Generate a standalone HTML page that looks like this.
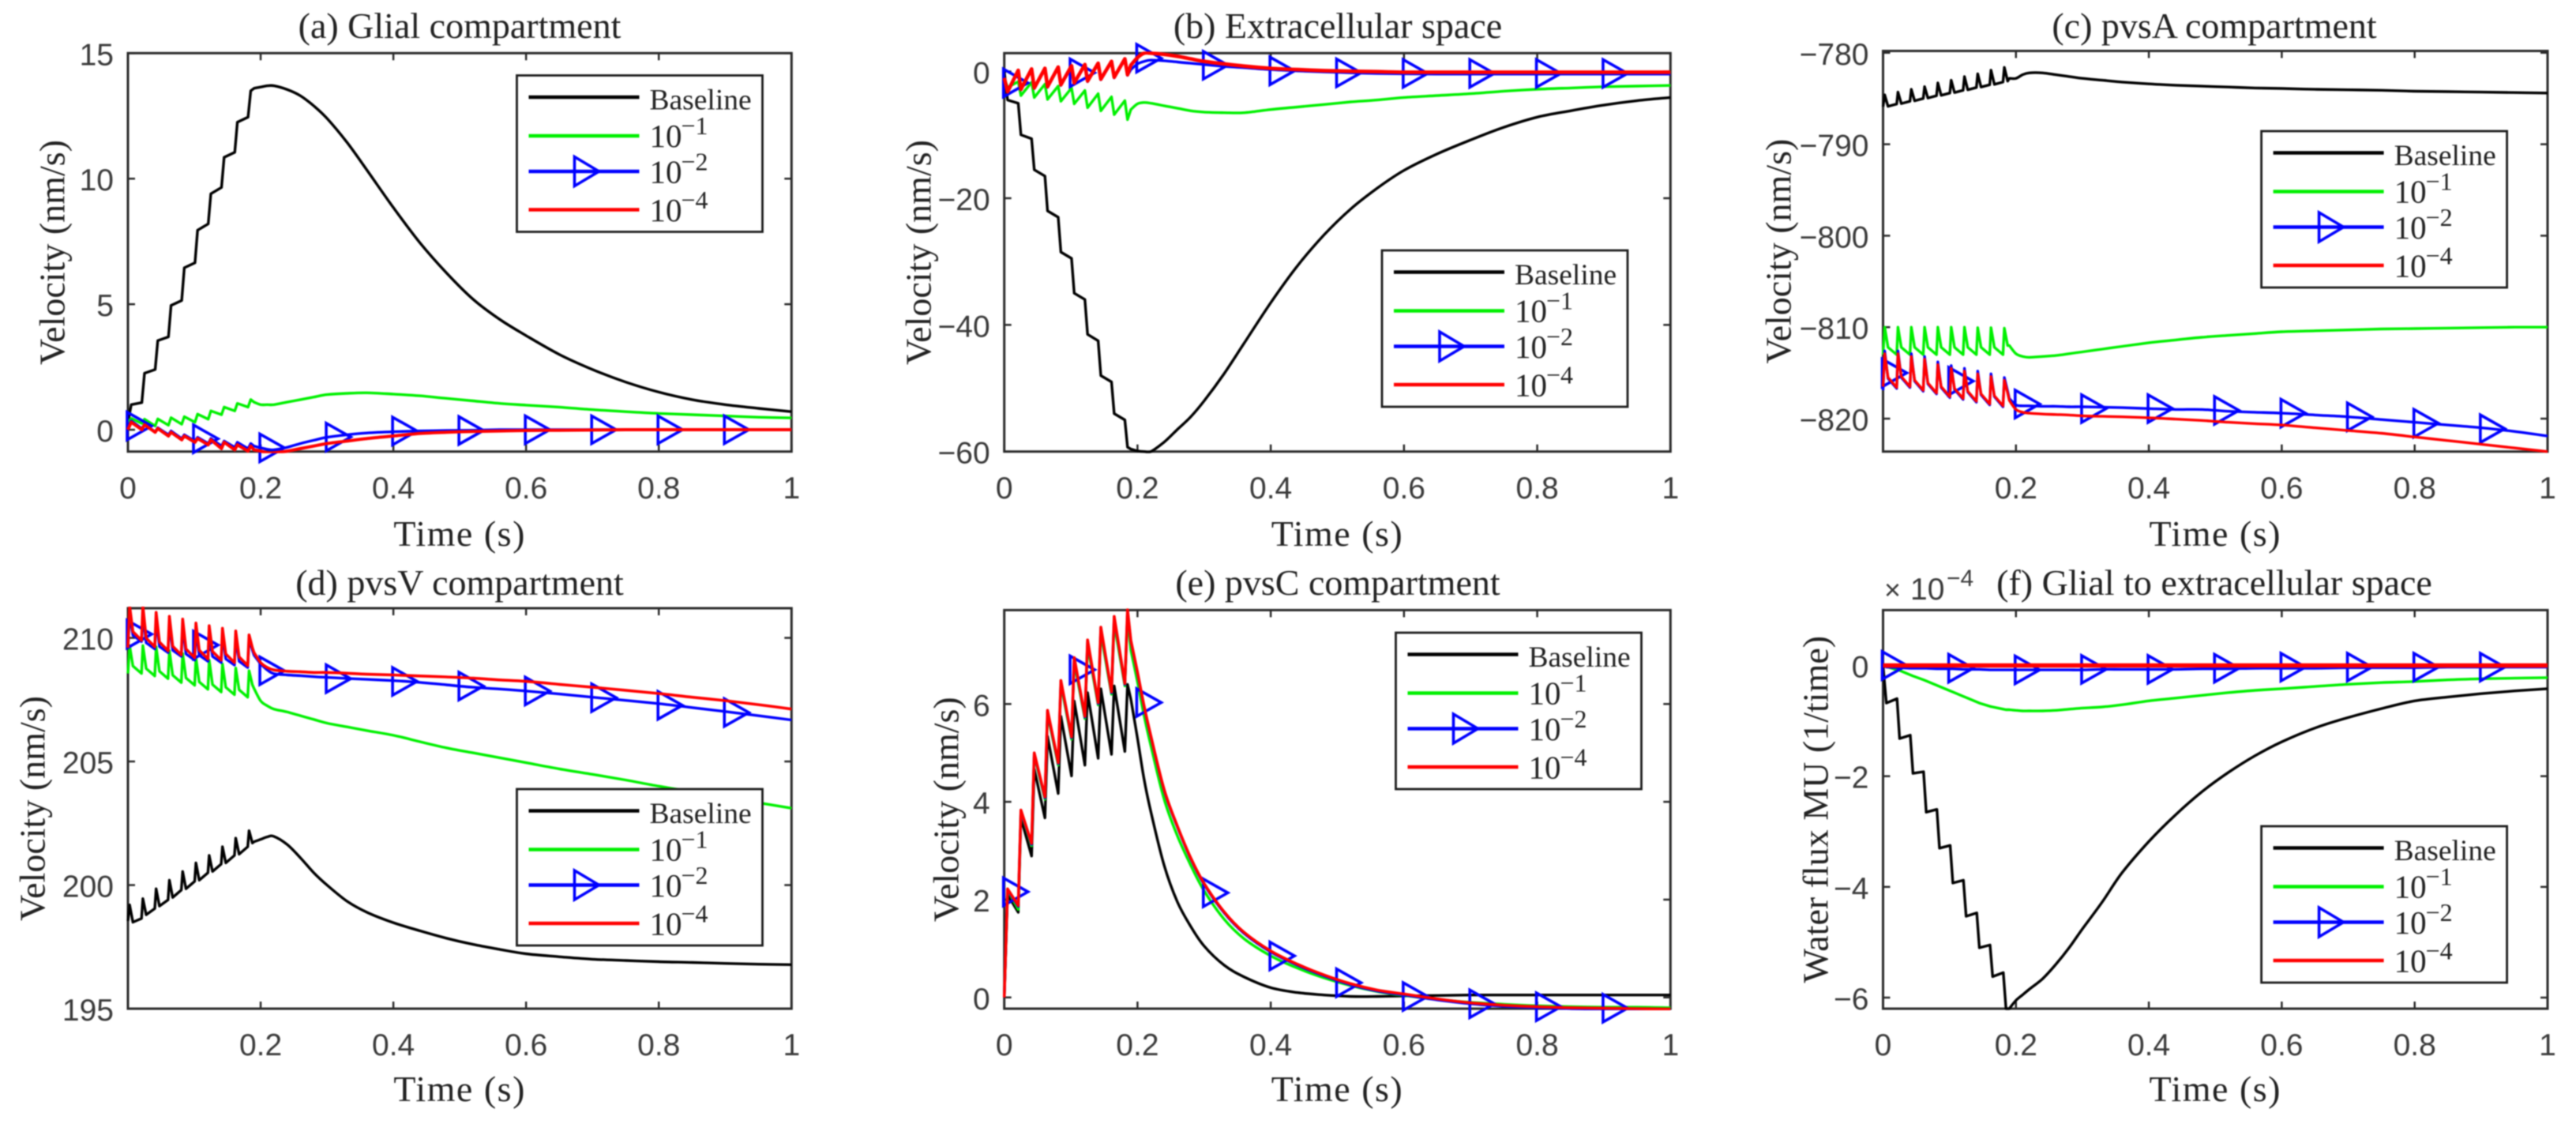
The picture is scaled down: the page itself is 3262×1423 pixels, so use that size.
<!DOCTYPE html>
<html lang="en">
<head>
<meta charset="utf-8">
<title>Velocity and water flux by compartment</title>
<style>
html,body{margin:0;padding:0;background:#fff;width:3262px;height:1423px;overflow:hidden}
#figure{display:block;filter:blur(0.7px)}
.serif{font-family:"Liberation Serif",serif;fill:#222}
.sans{font-family:"Liberation Sans",sans-serif;fill:#3a3a3a}
</style>
</head>
<body>
<svg id="figure" xmlns="http://www.w3.org/2000/svg" width="3262" height="1423" viewBox="0 0 3262 1423"></svg>
<script>
// ---------- shared sample times ----------
const timesSlowRise = [0,.005,.021,.025,.041,.045,.061,.065,.081,.085,.101,.105,.121,.125,.141,.145,.161,.165,.181,.185,.19,.2,.21,.22,.24,.26,.28,.3,.33,.36,.4,.44,.48,.52,.56,.6,.65,.7,.75,.8,.85,.9,.95,1];
const timesFastRise = [0,.0025,.0075,.0205,.0225,.0275,.0405,.0425,.0475,.0605,.0625,.0675,.0805,.0825,.0875,.1005,.1025,.1075,.1205,.1225,.1275,.1405,.1425,.1475,.1605,.1625,.1675,.1805,.1825,.1875,.19,.2,.21,.22,.24,.26,.28,.3,.33,.36,.4,.44,.48,.52,.56,.6,.65,.7,.75,.8,.85,.9,.95,1];
const markerTimes = [0,.1,.2,.3,.4,.5,.6,.7,.8,.9];
const xTickValues = [0,.2,.4,.6,.8,1];
const xTickLabels = ["0","0.2","0.4","0.6","0.8","1"];
const xTickLabelsNoZero = ["","0.2","0.4","0.6","0.8","1"];
const legendLabels = ["Baseline","10","10","10"];
const legendExponents = ["","\u22121","\u22122","\u22124"];

// ---------- (a) glial ----------
const glialYTicks = [0,5,10,15];
const glialYLabels = ["0","5","10","15"];
const glialBaseline = [.3,1,1.08,2.25,2.4,3.55,3.7,4.95,5.15,6.45,6.65,7.95,8.2,9.4,9.65,10.85,11.05,12.25,12.45,13.5,13.6,13.65,13.7,13.7,13.55,13.3,12.9,12.4,11.45,10.35,8.85,7.45,6.25,5.2,4.4,3.75,3,2.4,1.9,1.5,1.2,1,.85,.72];
const glialGreen = [.3,.45,.25,.42,.15,.43,.18,.48,.22,.52,.3,.62,.42,.75,.6,.9,.75,1.05,.9,1.2,1.1,1,1,1,1.1,1.2,1.3,1.4,1.45,1.47,1.42,1.35,1.25,1.15,1.05,.98,.9,.8,.72,.65,.6,.55,.5,.47];
const glialBlue = [.1,.35,.05,.22,-.08,.08,-.2,-.05,-.35,-.2,-.45,-.3,-.55,-.35,-.65,-.45,-.7,-.5,-.75,-.55,-.65,-.72,-.78,-.8,-.7,-.55,-.42,-.3,-.2,-.13,-.08,-.05,-.03,-.02,0,0,0,0,0,0,0,0,0,0];
const glialRed = [0,.3,0,.2,-.1,.05,-.25,-.1,-.4,-.25,-.5,-.35,-.6,-.4,-.75,-.5,-.8,-.6,-.85,-.65,-.8,-.85,-.92,-.92,-.85,-.75,-.65,-.55,-.45,-.35,-.25,-.15,-.1,-.07,-.05,-.03,-.02,-.01,0,0,0,0,0,0];
const glialMarkers = [.15,-.36,-.72,-.29,-.05,-.03,0,0,0,0];

// ---------- (b) extracellular ----------
const extraYTicks = [0,-20,-40,-60];
const extraYLabels = ["0","\u221220","\u221240","\u221260"];
const extraBaseline = [0,-4.5,-5,-10,-10.6,-15.5,-16.5,-22,-23,-28.5,-29.5,-35,-36,-41.5,-42.5,-48,-49,-54,-55,-59.3,-59.6,-59.9,-60,-60,-58.5,-56.5,-54.5,-52,-47.7,-42.9,-36.5,-30.7,-25.8,-21.7,-18.4,-15.6,-13,-10.8,-8.8,-7.2,-6.2,-5.3,-4.6,-4.1];
const extraGreen = [-1,-2.5,-1.6,-3.8,-1.7,-4.1,-2,-4.4,-2.3,-4.7,-2.6,-5.1,-3,-5.7,-3.5,-6.2,-4,-6.8,-4.6,-7.6,-6,-5.1,-4.9,-5,-5.4,-5.8,-6.2,-6.4,-6.5,-6.5,-6,-5.6,-5.2,-4.8,-4.5,-4.1,-3.8,-3.5,-3.1,-2.8,-2.6,-2.4,-2.3,-2.2];
const extraBlue = [-1,-3.3,.1,-2.9,.3,-2.7,.4,-2.5,.6,-2.2,.8,-1.9,1,-1.6,1.2,-1.3,1.5,-1,1.9,-.6,.3,1.2,1.6,1.8,1.7,1.5,1.3,1.1,.8,.6,.3,.1,-.05,-.2,-.3,-.35,-.4,-.4,-.4,-.4,-.4,-.4,-.4,-.4];
const extraRed = [-1,-3.2,.2,-2.8,.4,-2.6,.5,-2.4,.7,-2.1,.9,-1.8,1.1,-1.5,1.3,-1.2,1.6,-.9,2,-.5,1,2.2,2.9,2.9,2.7,2.4,2,1.6,1.2,.85,.5,.3,.15,.05,-.02,-.1,-.1,-.1,-.1,-.1,-.1,-.1,-.1,-.1];
const extraMarkers = [-1.8,-.2,2.1,1,.1,-.2,-.3,-.3,-.3,-.3];

// ---------- (c) pvsA ----------
const pvsAYTicks = [-780,-790,-800,-810,-820];
const pvsAYLabels = ["\u2212780","\u2212790","\u2212800","\u2212810","\u2212820"];
const pvsABaseline = [-785.9,-784.6,-785.85,-785.6,-784.3,-785.55,-785.3,-784,-785.25,-785,-783.7,-784.95,-784.7,-783.3,-784.65,-784.4,-783,-784.35,-784.1,-782.6,-784.05,-783.8,-782.3,-783.75,-783.5,-781.9,-783.45,-783.2,-781.6,-783.1,-782.8,-782.8,-782.4,-782.2,-782.2,-782.4,-782.6,-782.8,-783,-783.2,-783.4,-783.55,-783.65,-783.75,-783.85,-783.9,-784,-784.05,-784.1,-784.2,-784.25,-784.3,-784.35,-784.4];
const pvsAGreen = [-813,-810,-812.2,-813,-810,-812.2,-813,-810,-812.2,-813,-810,-812.2,-813,-810,-812.2,-813,-810,-812.2,-813,-810,-812.2,-813,-810.05,-812.2,-813,-810.05,-812.2,-813,-810.1,-812,-812,-812.9,-813.2,-813.3,-813.2,-813.1,-812.9,-812.7,-812.4,-812.1,-811.7,-811.4,-811.1,-810.9,-810.7,-810.5,-810.4,-810.3,-810.2,-810.15,-810.1,-810.05,-810,-810];
const pvsABlue = [-816.9,-812.6,-815.6,-816.7,-812.6,-815.5,-816.6,-812.9,-815.9,-817,-813.2,-816.2,-817.3,-813.8,-816.6,-817.7,-814.2,-816.8,-817.9,-814.5,-817.1,-818.2,-814.8,-817.4,-818.5,-815.1,-817.6,-818.7,-815.5,-817,-817.8,-818.5,-818.6,-818.6,-818.65,-818.65,-818.7,-818.7,-818.75,-818.8,-818.9,-819,-819,-819.2,-819.3,-819.4,-819.6,-819.8,-820.1,-820.4,-820.7,-821,-821.4,-821.9];
const pvsARed = [-816.5,-812.9,-815.5,-816.6,-812.9,-815.4,-816.5,-813.2,-815.8,-816.9,-813.5,-816.1,-817.2,-814.1,-816.5,-817.6,-814.5,-816.7,-817.8,-814.8,-817,-818.1,-815.1,-817.3,-818.4,-815.4,-817.5,-818.6,-815.8,-817.2,-818,-819,-819.3,-819.4,-819.5,-819.55,-819.6,-819.7,-819.75,-819.8,-819.9,-820.05,-820.2,-820.4,-820.55,-820.7,-821,-821.3,-821.6,-822,-822.4,-822.8,-823.2,-823.6];
const pvsAMarkers = [-815,-815.9,-818.4,-818.9,-818.9,-819.1,-819.4,-819.8,-820.5,-821.1];

// ---------- (d) pvsV ----------
const pvsVYTicks = [195,200,205,210];
const pvsVYLabels = ["195","200","205","210"];
const pvsVBaseline = [198.55,199.2,198.5,198.65,199.45,198.8,199.05,199.85,199.15,199.4,200.2,199.5,199.8,200.55,199.85,200.15,200.9,200.2,200.5,201.2,200.55,200.85,201.55,200.9,201.2,201.9,201.25,201.55,202.2,201.7,201.75,201.85,201.95,201.97,201.64,201.1,200.5,200,199.35,198.9,198.48,198.15,197.85,197.6,197.4,197.22,197.1,197,196.95,196.9,196.87,196.83,196.8,196.78];
const pvsVGreen = [208.56,209.69,208.86,208.56,209.69,208.76,208.46,209.64,208.65,208.35,209.48,208.49,208.19,209.37,208.38,208.08,209.2,208.22,207.92,209.1,208.11,207.81,208.94,208,207.7,208.78,207.9,207.6,208.67,208.1,207.95,207.45,207.25,207.12,207,206.85,206.7,206.55,206.4,206.25,206.06,205.8,205.55,205.35,205.15,204.95,204.7,204.48,204.25,204,203.78,203.55,203.33,203.11];
const pvsVBlue = [209.55,210.95,210.1,209.85,210.9,209.8,209.55,210.75,209.65,209.4,210.6,209.5,209.25,210.5,209.35,209.1,210.35,209.3,209.05,210.25,209.25,209,210.15,209.15,208.9,210.05,209.05,208.8,209.95,209.5,209.3,208.95,208.7,208.55,208.5,208.47,208.43,208.4,208.36,208.32,208.27,208.2,208.1,208,207.93,207.85,207.73,207.6,207.47,207.34,207.18,207.02,206.85,206.68];
const pvsVRed = [209.6,211.3,210.25,209.9,211.3,209.99,209.64,211.03,209.83,209.48,210.87,209.66,209.31,210.76,209.55,209.2,210.6,209.5,209.15,210.49,209.45,209.1,210.39,209.35,209,210.28,209.23,208.88,210.12,209.6,209.4,209,208.8,208.7,208.65,208.63,208.6,208.6,208.57,208.53,208.5,208.46,208.42,208.37,208.3,208.24,208.12,208,207.88,207.75,207.6,207.46,207.3,207.12];
const pvsVMarkers = [210.15,209.71,208.67,208.35,208.24,208.05,207.85,207.58,207.27,206.98];

// ---------- (e) pvsC ----------
const pvsCYTicks = [0,2,4,6];
const pvsCYLabels = ["0","2","4","6"];
const pvsCBaseline = [0,2.1,1.74,3.67,2.89,4.67,3.67,5.34,4.17,5.75,4.53,6.06,4.75,6.23,4.89,6.31,4.97,6.37,5.03,6.4,6.1,5.3,4.45,3.8,2.7,1.95,1.45,1.05,.66,.42,.2,.1,.05,.02,.02,.03,.04,.05,.05,.05,.05,.05,.05,.05];
const pvsCGreen = [0,2.2,1.8,3.8,3.1,4.95,4.05,5.8,4.75,6.4,5.28,6.85,5.7,7.2,5.98,7.45,6.2,7.65,6.37,7.8,7.1,6.45,5.75,5.15,4.05,3.3,2.7,2.18,1.6,1.2,.85,.6,.4,.24,.12,.04,-.04,-.1,-.14,-.17,-.19,-.2,-.2,-.21];
const pvsCBlue = [0,2.2,1.86,3.81,3.13,4.98,4.08,5.85,4.78,6.46,5.31,6.93,5.73,7.29,6.01,7.55,6.23,7.77,6.4,7.9,7.28,6.63,5.93,5.33,4.23,3.48,2.83,2.31,1.73,1.31,.93,.66,.44,.26,.13,.05,-.05,-.13,-.18,-.21,-.23,-.24,-.25,-.26];
const pvsCRed = [0,2.22,1.88,3.83,3.15,5,4.1,5.87,4.8,6.48,5.33,6.95,5.75,7.31,6.03,7.57,6.25,7.79,6.42,7.93,7.3,6.65,5.95,5.35,4.25,3.5,2.85,2.33,1.75,1.33,.95,.68,.46,.28,.15,.07,-.03,-.11,-.16,-.19,-.21,-.22,-.23,-.24];
const pvsCMarkers = [2.16,6.7,6.03,2.14,.85,.3,.02,-.13,-.19,-.22];

// ---------- (f) glial to extracellular flux ----------
const fluxYTicks = [0,-2,-4,-6];
const fluxYLabels = ["0","\u22122","\u22124","\u22126"];
const fluxBaseline = [0,-.68,-.6,-1.32,-1.26,-1.95,-1.92,-2.65,-2.6,-3.3,-3.25,-3.93,-3.88,-4.53,-4.47,-5.1,-5.05,-5.62,-5.55,-6.2,-6.2,-6.05,-5.95,-5.85,-5.66,-5.4,-5.1,-4.76,-4.27,-3.74,-3.18,-2.7,-2.28,-1.93,-1.63,-1.38,-1.13,-.94,-.78,-.64,-.57,-.51,-.46,-.42];
const fluxGreen = [0,-.02,-.08,-.09,-.17,-.19,-.26,-.28,-.36,-.38,-.46,-.48,-.56,-.58,-.66,-.68,-.74,-.75,-.79,-.8,-.8,-.81,-.82,-.82,-.82,-.81,-.79,-.77,-.75,-.71,-.64,-.59,-.54,-.49,-.45,-.42,-.38,-.34,-.31,-.29,-.26,-.24,-.23,-.22];
const fluxBlue = [0,-.03,-.04,-.04,-.05,-.05,-.05,-.05,-.06,-.06,-.06,-.06,-.07,-.07,-.07,-.07,-.08,-.08,-.08,-.08,-.08,-.08,-.08,-.08,-.08,-.08,-.08,-.08,-.07,-.07,-.07,-.07,-.06,-.06,-.05,-.05,-.05,-.04,-.04,-.04,-.03,-.03,-.03,-.03];
const fluxRed = [0,0,0,0,0,0,0,0,0,0,0,0,0,0,0,0,0,0,0,0,0,0,0,0,0,0,0,0,0,0,0,0,0,0,0,0,0,0,0,0,0,0,0,0];
const fluxMarkers = [0,-.05,-.08,-.07,-.07,-.05,-.03,-.03,-.03,-.03];

// ---------- drawing ----------
const SVG_NS = "http://www.w3.org/2000/svg";
const root = document.getElementById("figure");
const AXIS = "#2a2a2a";
const TAIL_START_TIME = 0.19;

function make(parent, tag, attrs, text) {
  const node = document.createElementNS(SVG_NS, tag);
  for (const k in attrs) node.setAttribute(k, attrs[k]);
  if (text !== undefined) node.textContent = text;
  parent.appendChild(node);
  return node;
}
function axisX(p, t) { return p.left + (t - 0) * (p.right - p.left); }
function axisY(p, v) { return p.bottom - (v - p.yMin) / (p.yMax - p.yMin) * (p.bottom - p.top); }

// Straight segments through the pulse train, smooth spline through the decay tail.
function seriesPath(p, times, values) {
  const xs = values.map((v, i) => axisX(p, times[i]));
  const ys = values.map(v => axisY(p, v));
  const tail = times.findIndex(t => t >= TAIL_START_TIME);
  let d = "M" + xs[0].toFixed(1) + " " + ys[0].toFixed(1);
  for (let i = 1; i <= tail; i++) d += "L" + xs[i].toFixed(1) + " " + ys[i].toFixed(1);
  for (let i = tail; i < xs.length - 1; i++) {
    const a = Math.max(i - 1, tail), b = Math.min(i + 2, xs.length - 1);
    const c1x = xs[i] + (xs[i + 1] - xs[a]) / 6, c1y = ys[i] + (ys[i + 1] - ys[a]) / 6;
    const c2x = xs[i + 1] - (xs[b] - xs[i]) / 6, c2y = ys[i + 1] - (ys[b] - ys[i]) / 6;
    d += "C" + c1x.toFixed(1) + " " + c1y.toFixed(1) + " " + c2x.toFixed(1) + " " + c2y.toFixed(1) + " " + xs[i + 1].toFixed(1) + " " + ys[i + 1].toFixed(1);
  }
  return d;
}
function drawSeries(g, p, times, values, color, width, name) {
  const line = make(g, "path", {d: seriesPath(p, times, values), fill: "none", stroke: color, "stroke-width": width, "stroke-linejoin": "round", "clip-path": "url(#clip-" + p.key + ")"});
  
  
}
function triangle(cx, cy, hw, hh) {
  return (cx - 1) + "," + (cy - hh) + " " + (cx - 1 + hw) + "," + cy + " " + (cx - 1) + "," + (cy + hh);
}
function drawMarkers(g, p, values) {
  values.forEach((v, i) => {
    const m = make(g, "polygon", {points: triangle(axisX(p, markerTimes[i]), axisY(p, v), 31, 17.5), fill: "none", stroke: "#0000ff", "stroke-width": 3.6, "stroke-linejoin": "miter"});
    
    
  });
}
function drawLegend(g, lx, ly) {
  const box = make(g, "rect", {x: lx, y: ly, width: 311, height: 198, fill: "#fff", stroke: "#1c1c1c", "stroke-width": 2.8});
  
  
  const colors = ["#000000", "#00f000", "#0000ff", "#ff0000"];
  const rowLine = [27.5, 76.5, 121.5, 170];
  const rowBase = [43, 90.5, 136, 184.5];
  legendLabels.forEach((label, i) => {
    const entry = make(g, "g", {});
    
    
    make(entry, "line", {x1: lx + 15, x2: lx + 155, y1: ly + rowLine[i], y2: ly + rowLine[i], stroke: colors[i], "stroke-width": 4.6});
    if (i === 2) {
      make(entry, "polygon", {points: triangle(lx + 74, ly + rowLine[i], 31, 18.5), fill: "none", stroke: "#0000ff", "stroke-width": 3.6});
    }
    make(entry, "text", {x: lx + 168, y: ly + rowBase[i], class: "serif", "font-size": i === 0 ? 37.5 : 41}, label);
    if (legendExponents[i]) {
      make(entry, "text", {x: lx + 208, y: ly + rowBase[i] - 16, class: "serif", "font-size": 32}, legendExponents[i]);
    }
  });
}
function drawPanel(p) {
  const g = make(root, "g", {});
  
  
  const clip = make(make(g, "defs", {}), "clipPath", {id: "clip-" + p.key});
  make(clip, "rect", {x: p.left - 2, y: p.top - 2, width: p.right - p.left + 4, height: p.bottom - p.top + 4});

  const frame = make(g, "rect", {x: p.left, y: p.top, width: p.right - p.left, height: p.bottom - p.top, fill: "none", stroke: AXIS, "stroke-width": 3});
  
  

  xTickValues.forEach((t, i) => {
    const x = axisX(p, t);
    make(g, "line", {x1: x, x2: x, y1: p.bottom, y2: p.bottom - 9, stroke: AXIS, "stroke-width": 2.5});
    make(g, "line", {x1: x, x2: x, y1: p.top, y2: p.top + 9, stroke: AXIS, "stroke-width": 2.5});
    const lab = make(g, "text", {x: x, y: p.xTickBase, class: "sans", "font-size": 39, "text-anchor": "middle"}, p.xLabels[i]);
    
    
  });
  p.yTicks.forEach((v, i) => {
    const y = axisY(p, v);
    make(g, "line", {x1: p.left, x2: p.left + 9, y1: y, y2: y, stroke: AXIS, "stroke-width": 2.5});
    make(g, "line", {x1: p.right, x2: p.right - 9, y1: y, y2: y, stroke: AXIS, "stroke-width": 2.5});
    const lab = make(g, "text", {x: p.left - 18, y: y + 15, class: "sans", "font-size": 39, "text-anchor": "end"}, p.yLabels[i]);
    
    
  });

  const title = make(g, "text", {x: p.titleX, y: p.titleBase, class: "serif", "font-size": 46, "text-anchor": "middle"}, p.title);
  
  
  const xt = make(g, "text", {x: (p.left + p.right) / 2, y: p.xTitleBase, class: "serif", "font-size": 46, "text-anchor": "middle", "letter-spacing": 1.5}, "Time (s)");
  
  
  const midY = (p.top + p.bottom) / 2;
  const yt = make(g, "text", {x: p.yTitleX, y: midY, class: "serif", "font-size": 46, "text-anchor": "middle", "dominant-baseline": "central", transform: "rotate(-90 " + p.yTitleX + " " + midY + ")"}, p.yTitle);
  
  

  drawSeries(g, p, p.times, p.baseline, "#000000", 3.4, "series-baseline");
  drawSeries(g, p, p.times, p.green, "#00f000", 3.4, "series-1e-1");
  drawSeries(g, p, p.times, p.blue, "#0000ff", 3.4, "series-1e-2");
  drawMarkers(g, p, p.markers);
  drawSeries(g, p, p.times, p.red, "#ff0000", p.redWidth, "series-1e-4");
  drawLegend(g, p.legendX, p.legendY);
}

drawPanel({key: "a", title: "(a) Glial compartment", yTitle: "Velocity (nm/s)", titleX: 582, titleBase: 48, xTitleBase: 691, xTickBase: 631, yTitleX: 66,
  left: 162, right: 1002.3, top: 67.3, bottom: 571.7, yMin: -.87, yMax: 15, times: timesSlowRise, xLabels: xTickLabels,
  yTicks: glialYTicks, yLabels: glialYLabels, baseline: glialBaseline, green: glialGreen, blue: glialBlue, red: glialRed, markers: glialMarkers, redWidth: 4, legendX: 654.5, legendY: 95.5});
drawPanel({key: "b", title: "(b) Extracellular space", yTitle: "Velocity (nm/s)", titleX: 1694, titleBase: 48, xTitleBase: 691, xTickBase: 631, yTitleX: 1163,
  left: 1271.7, right: 2115.3, top: 67.3, bottom: 571.7, yMin: -60, yMax: 2.9, times: timesSlowRise, xLabels: xTickLabels,
  yTicks: extraYTicks, yLabels: extraYLabels, baseline: extraBaseline, green: extraGreen, blue: extraBlue, red: extraRed, markers: extraMarkers, redWidth: 4.6, legendX: 1750, legendY: 317});
drawPanel({key: "c", title: "(c) pvsA compartment", yTitle: "Velocity (nm/s)", titleX: 2804, titleBase: 48, xTitleBase: 691, xTickBase: 631, yTitleX: 2252,
  left: 2384.5, right: 3226, top: 64.5, bottom: 571.7, yMin: -823.6, yMax: -779.8, times: timesFastRise, xLabels: xTickLabelsNoZero,
  yTicks: pvsAYTicks, yLabels: pvsAYLabels, baseline: pvsABaseline, green: pvsAGreen, blue: pvsABlue, red: pvsARed, markers: pvsAMarkers, redWidth: 3.4, legendX: 2863.6, legendY: 166});
drawPanel({key: "d", title: "(d) pvsV compartment", yTitle: "Velocity (nm/s)", titleX: 582, titleBase: 753, xTitleBase: 1394, xTickBase: 1336, yTitleX: 41,
  left: 162, right: 1002.3, top: 770, bottom: 1277, yMin: 195, yMax: 211.2, times: timesFastRise, xLabels: xTickLabelsNoZero,
  yTicks: pvsVYTicks, yLabels: pvsVYLabels, baseline: pvsVBaseline, green: pvsVGreen, blue: pvsVBlue, red: pvsVRed, markers: pvsVMarkers, redWidth: 3.6, legendX: 654.5, legendY: 999});
drawPanel({key: "e", title: "(e) pvsC compartment", yTitle: "Velocity (nm/s)", titleX: 1694, titleBase: 753, xTitleBase: 1394, xTickBase: 1336, yTitleX: 1198,
  left: 1271.7, right: 2115.3, top: 772.4, bottom: 1277, yMin: -.23, yMax: 7.92, times: timesSlowRise, xLabels: xTickLabels,
  yTicks: pvsCYTicks, yLabels: pvsCYLabels, baseline: pvsCBaseline, green: pvsCGreen, blue: pvsCBlue, red: pvsCRed, markers: pvsCMarkers, redWidth: 3.6, legendX: 1767.5, legendY: 801});
drawPanel({key: "f", title: "(f) Glial to extracellular space", yTitle: "Water flux MU (1/time)", titleX: 2804, titleBase: 753, xTitleBase: 1394, xTickBase: 1336, yTitleX: 2299,
  left: 2384.5, right: 3226, top: 772.4, bottom: 1277, yMin: -6.2, yMax: 1, times: timesSlowRise, xLabels: xTickLabels,
  yTicks: fluxYTicks, yLabels: fluxYLabels, baseline: fluxBaseline, green: fluxGreen, blue: fluxBlue, red: fluxRed, markers: fluxMarkers, redWidth: 5.4, legendX: 2863.6, legendY: 1046});

const expo = make(root, "g", {});


make(expo, "text", {x: 2386, y: 759, class: "sans", "font-size": 36}, "\u00d7");
make(expo, "text", {x: 2419, y: 759, class: "sans", "font-size": 39}, "10");
make(expo, "text", {x: 2465, y: 742, class: "sans", "font-size": 30}, "\u22124");
</script>
</body>
</html>
